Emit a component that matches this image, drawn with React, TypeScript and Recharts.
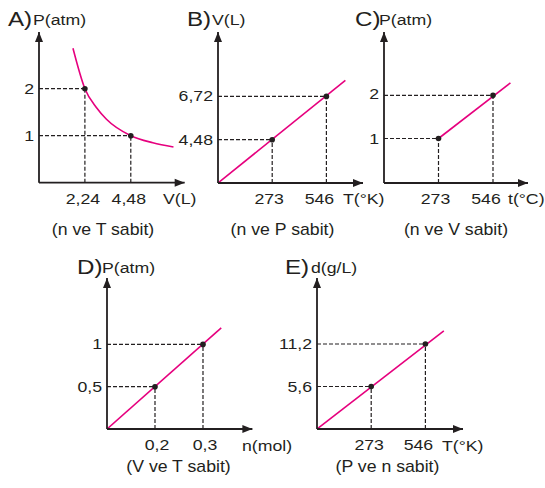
import React from 'react';
import { ComposedChart, Line, Scatter, XAxis, YAxis, ReferenceLine, ReferenceDot } from 'recharts';

const FONT = '"Liberation Sans", Arial, Helvetica, sans-serif';
const INK = '#231f20';
const PINK = '#e6007e';

// The drawings are schematic: on every axis, position 1 is the first labelled tick, position 2 the second.

// A) P–V (n, T constant)
const aXLabels = ['2,24', '4,48'];
const aYLabels = ['1', '2'];
const aPoints = [{ x: 1, y: 2 }, { x: 2, y: 1 }];
const aCurve = [
  { x: 0.74, y: 2.86 },
  { x: 1, y: 2 },
  { x: 1.25, y: 1.6 },
  { x: 1.47, y: 1.35 },
  { x: 2, y: 1 },
  { x: 2.48, y: 0.85 },
  { x: 2.93, y: 0.76 },
];

// B) V–T (n, P constant)
const bXLabels = ['273', '546'];
const bYLabels = ['4,48', '6,72'];
const bPoints = [{ x: 1, y: 1 }, { x: 2, y: 2 }];
const bLine = [{ x: 0, y: 0 }, { x: 2.35, y: 2.37 }];

// C) P–t (n, V constant)
const cXLabels = ['273', '546'];
const cYLabels = ['1', '2'];
const cPoints = [{ x: 1, y: 1 }, { x: 2, y: 1.97 }];
const cLine = [{ x: 1, y: 1 }, { x: 2.32, y: 2.25 }];

// D) P–n (V, T constant)
const dXLabels = ['0,2', '0,3'];
const dYLabels = ['0,5', '1'];
const dPoints = [{ x: 1, y: 1 }, { x: 2, y: 2 }];
const dLine = [{ x: 0, y: 0 }, { x: 2.38, y: 2.39 }];

// E) d–T (P, n constant)
const eXLabels = ['273', '546'];
const eYLabels = ['5,6', '11,2'];
const ePoints = [{ x: 1, y: 1 }, { x: 2, y: 2 }];
const eLine = [{ x: 0, y: 0 }, { x: 2.34, y: 2.31 }];

// page geometry of each panel: origin, arrow tips, px per position unit, x-label nudges
const boxes = {
  A: { ox: 39.3, oy: 182.7, xEnd: 185, yTop: 32, xk: 45.9, yk: 47, xdx: [-2, -2] },
  B: { ox: 218.3, oy: 182.7, xEnd: 363.3, yTop: 31.7, xk: 54.2, yk: 43.3, xdx: [-3, -7] },
  C: { ox: 384.3, oy: 182.7, xEnd: 528.3, yTop: 31.7, xk: 54.5, yk: 44.5, xdx: [-3, -7] },
  D: { ox: 107.3, oy: 429.3, xEnd: 252.7, yTop: 278.3, xk: 48, yk: 42.3, xdx: [2, 2] },
  E: { ox: 316.7, oy: 429.3, xEnd: 462.7, yTop: 278.3, xk: 54.2, yk: 42.5, xdx: [-2, -7] },
};

const texts = [
  { t: 'A)', x: 8, y: 26, size: 21, sx: 1.15 },
  { t: 'P(atm)', x: 33, y: 25, size: 15, sx: 1.18 },
  { t: 'B)', x: 187, y: 26, size: 21, sx: 1.15 },
  { t: 'V(L)', x: 212, y: 25, size: 15, sx: 1.18 },
  { t: 'C)', x: 355, y: 26, size: 21, sx: 1.15 },
  { t: 'P(atm)', x: 379, y: 25, size: 15, sx: 1.18 },
  { t: 'V(L)', x: 163, y: 204, size: 15, sx: 1.18 },
  { t: 'T(°K)', x: 343, y: 204, size: 15, sx: 1.18 },
  { t: 't(°C)', x: 508, y: 204, size: 15, sx: 1.18 },
  { t: '(n ve T sabit)', x: 103, y: 235, size: 17, sx: 1.04, anchor: 'middle' },
  { t: '(n ve P sabit)', x: 282.5, y: 235, size: 17, sx: 1.04, anchor: 'middle' },
  { t: '(n ve V sabit)', x: 456, y: 235, size: 17, sx: 1.04, anchor: 'middle' },
  { t: 'D)', x: 77, y: 274, size: 21, sx: 1.15 },
  { t: 'P(atm)', x: 102, y: 273, size: 15, sx: 1.18 },
  { t: 'E)', x: 285, y: 274, size: 21, sx: 1.15 },
  { t: 'd(g/L)', x: 311, y: 273, size: 15, sx: 1.18 },
  { t: 'n(mol)', x: 242, y: 451, size: 15, sx: 1.18 },
  { t: 'T(°K)', x: 442, y: 451, size: 15, sx: 1.18 },
  { t: '(V ve T sabit)', x: 178.5, y: 472, size: 17, sx: 1.04, anchor: 'middle' },
  { t: '(P ve n sabit)', x: 387.5, y: 472, size: 17, sx: 1.04, anchor: 'middle' },
];

const XTick = ({ x, y, payload, labels, nudges }: any) => (
  <text
    transform={`translate(${x + nudges[payload.value - 1]},${y + 21}) scale(1.18,1)`}
    textAnchor="middle"
    fontSize={15}
    fontFamily={FONT}
    fill={INK}
  >
    {labels[payload.value - 1]}
  </text>
);

const YTick = ({ x, y, payload, labels }: any) => (
  <text
    transform={`translate(${x - 5},${y + 5}) scale(1.18,1)`}
    textAnchor="end"
    fontSize={15}
    fontFamily={FONT}
    fill={INK}
  >
    {labels[payload.value - 1]}
  </text>
);

const XArrow = ({ cx, cy }: any) => (
  <path d={`M${cx},${cy} L${cx - 10},${cy - 4} L${cx - 10},${cy + 4} Z`} fill={INK} />
);
const YArrow = ({ cx, cy }: any) => (
  <path d={`M${cx},${cy} L${cx - 4},${cy + 10} L${cx + 4},${cy + 10} Z`} fill={INK} />
);
const Dot = ({ cx, cy }: any) => <circle cx={cx} cy={cy} r={2.8} fill={INK} />;

function GasPanel({ xLabels, yLabels, points, line, curved, box }: any) {
  const YW = 50;
  const XH = 30;
  const MT = 12;
  const MR = 12;
  const plotW = box.xEnd - box.ox;
  const plotH = box.oy - box.yTop;
  const xMax = plotW / box.xk;
  const yMax = plotH / box.yk;
  return (
    <div style={{ position: 'absolute', left: box.ox - YW, top: box.yTop - MT }}>
      <ComposedChart
        width={YW + plotW + MR}
        height={MT + plotH + XH}
        margin={{ top: MT, right: MR, left: 0, bottom: 0 }}
      >
        <XAxis
          type="number"
          dataKey="x"
          domain={[0, xMax]}
          allowDataOverflow
          ticks={[1, 2]}
          interval={0}
          height={XH}
          tickSize={0}
          tickMargin={0}
          tickLine={false}
          axisLine={{ stroke: INK, strokeWidth: 1.8 }}
          tick={(p: any) => <XTick {...p} labels={xLabels} nudges={box.xdx} />}
        />
        <YAxis
          type="number"
          dataKey="y"
          domain={[0, yMax]}
          allowDataOverflow
          ticks={[1, 2]}
          interval={0}
          width={YW}
          tickSize={0}
          tickMargin={0}
          tickLine={false}
          axisLine={{ stroke: INK, strokeWidth: 1.8 }}
          tick={(p: any) => <YTick {...p} labels={yLabels} />}
        />
        {points.map((p: any, i: number) => (
          <ReferenceLine
            key={`h${i}`}
            segment={[{ x: 0, y: p.y }, { x: p.x, y: p.y }]}
            stroke={INK}
            strokeWidth={1.2}
            strokeDasharray="4 2"
          />
        ))}
        {points.map((p: any, i: number) => (
          <ReferenceLine
            key={`v${i}`}
            segment={[{ x: p.x, y: 0 }, { x: p.x, y: p.y }]}
            stroke={INK}
            strokeWidth={1.2}
            strokeDasharray="4 2"
          />
        ))}
        <ReferenceDot x={xMax} y={0} ifOverflow="visible" shape={XArrow} />
        <ReferenceDot x={0} y={yMax} ifOverflow="visible" shape={YArrow} />
        <Line
          data={line}
          dataKey="y"
          type={curved ? 'monotone' : 'linear'}
          stroke={PINK}
          strokeWidth={1.6}
          dot={false}
          isAnimationActive={false}
        />
        <Scatter data={points} dataKey="y" shape={Dot} isAnimationActive={false} />
      </ComposedChart>
    </div>
  );
}

export default function App() {
  return (
    <div
      style={{
        position: 'absolute',
        left: 0,
        top: 0,
        width: 545,
        height: 488,
        background: '#fff',
        overflow: 'hidden',
      }}
    >
      <GasPanel xLabels={aXLabels} yLabels={aYLabels} points={aPoints} line={aCurve} curved box={boxes.A} />
      <GasPanel xLabels={bXLabels} yLabels={bYLabels} points={bPoints} line={bLine} box={boxes.B} />
      <GasPanel xLabels={cXLabels} yLabels={cYLabels} points={cPoints} line={cLine} box={boxes.C} />
      <GasPanel xLabels={dXLabels} yLabels={dYLabels} points={dPoints} line={dLine} box={boxes.D} />
      <GasPanel xLabels={eXLabels} yLabels={eYLabels} points={ePoints} line={eLine} box={boxes.E} />
      <svg
        width={545}
        height={488}
        style={{ position: 'absolute', left: 0, top: 0, pointerEvents: 'none' }}
      >
        {texts.map((d, i) => (
          <text
            key={i}
            transform={`translate(${d.x},${d.y}) scale(${d.sx},1)`}
            textAnchor={(d as any).anchor || 'start'}
            fontSize={d.size}
            fontFamily={FONT}
            fill={INK}
          >
            {d.t}
          </text>
        ))}
      </svg>
    </div>
  );
}
